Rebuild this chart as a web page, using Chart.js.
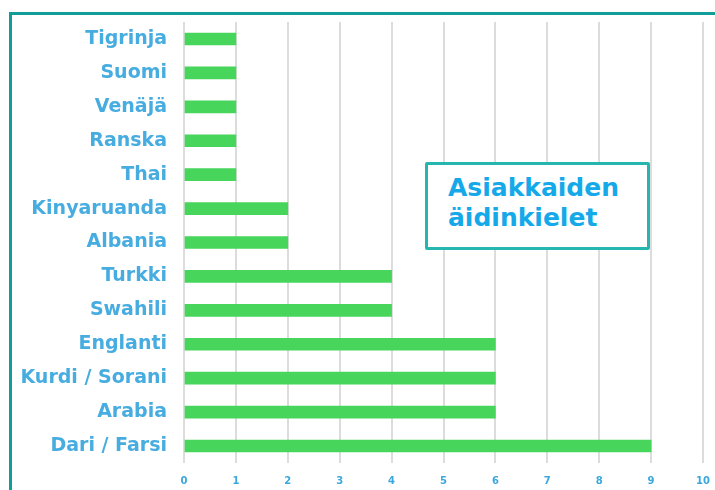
<!DOCTYPE html>
<html>
<head>
<meta charset="utf-8">
<script src="https://cdn.jsdelivr.net/npm/chart.js@4"></script>
<style>
  html, body { margin: 0; padding: 0; background: #fff; }
  #wrap { position: relative; width: 715px; height: 490px; overflow: hidden; }
  #frame { position: absolute; left: 9px; top: 12px; right: -10px; bottom: -10px;
    border-left: 3px solid #129e98; border-top: 3px solid #129e98; }
  #title { position: absolute; left: 425px; top: 162px; width: 219px; height: 82px;
    border: 3px solid #26b6b0; border-radius: 2px; background: #fff;
    font-family: "DejaVu Sans", sans-serif; font-weight: bold; font-size: 25px; line-height: 30px;
    color: #16a9e9; }
  #title span { position: absolute; left: 20px; top: 8px; white-space: nowrap; }
  canvas { position: absolute; left: 0; top: 0; }
</style>
</head>
<body>
<div id="wrap">
  <div id="frame"></div>
  <canvas id="grafico" width="715" height="490"></canvas>
  <div id="title"><span>Asiakkaiden<br>äidinkielet</span></div>
</div>
<script>
// datos del gráfico
const idiomas = ["Tigrinja", "Suomi", "Venäjä", "Ranska", "Thai", "Kinyaruanda", "Albania",
  "Turkki", "Swahili", "Englanti", "Kurdi / Sorani", "Arabia", "Dari / Farsi"];
const asiakkaat = [1, 1, 1, 1, 1, 2, 2, 4, 4, 6, 6, 6, 9];
const ejeMin = 0;
const ejeMax = 10;

const ctx = document.getElementById("grafico").getContext("2d");
new Chart(ctx, {
  type: 'bar',
  data: {
    labels: idiomas,
    datasets: [{
      data: asiakkaat,
      backgroundColor: '#47d55b',
      barThickness: 12
    }]
  },
  options: {
    indexAxis: 'y',
    responsive: false,
    animation: false,
    layout: { padding: { top: 22, right: 12 } },
    plugins: { legend: { display: false }, tooltip: { enabled: false } },
    scales: {
      x: {
        min: ejeMin, max: ejeMax,
        ticks: { stepSize: 1, color: '#3aa8dc', padding: 12, font: { family: 'DejaVu Sans', weight: 'bold', size: 10 } },
        grid: { color: '#dcdcdc', lineWidth: 2, drawTicks: false },
        border: { display: false },
        afterFit: s => { s.height = 27; s.paddingLeft = 0; s.paddingRight = 0; }
      },
      y: {
        ticks: { color: '#47acdf', padding: 17, font: { family: 'DejaVu Sans', weight: 'bold', size: 19 } },
        grid: { display: false, drawTicks: false },
        border: { display: false },
        afterFit: s => { s.width = 184; s.paddingTop = 0; s.paddingBottom = 0; }
      }
    }
  }
});
</script>
</body>
</html>
